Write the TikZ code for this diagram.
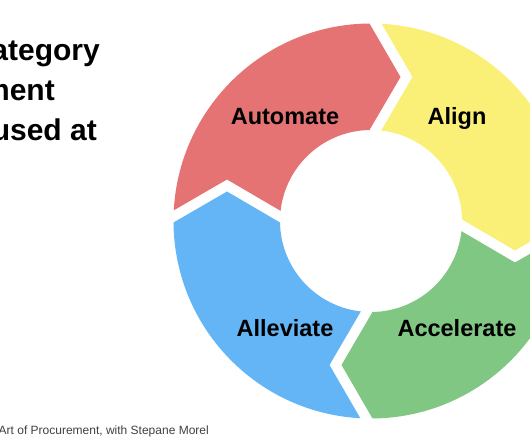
\documentclass[tikz,border=0pt]{standalone}
\usepackage{fontspec}
\setmainfont{Liberation Sans}
\usepackage{xcolor}
\usetikzlibrary{calc}

\definecolor{autored}{HTML}{E57373}
\definecolor{alignyel}{HTML}{FAF078}
\definecolor{accgreen}{HTML}{81C784}
\definecolor{allblue}{HTML}{64B5F6}

\begin{document}
\begin{tikzpicture}[
    x=1pt, y=1pt,
    every node/.style={align=center, inner sep=0pt},
    stage/.style={font=\fontsize{23.5}{28}\selectfont\bfseries, anchor=base},
    head/.style ={font=\fontsize{30}{36}\selectfont\bfseries, anchor=base east},
    note/.style ={font=\fontsize{12}{14}\selectfont, color=black!75, anchor=base west}
]
\useasboundingbox (0,0) rectangle (530,442);

% =========================================================
% Ring of four chevron arrows
% =========================================================
\coordinate (ring_c) at (371,221);
\begin{scope}[shift={(ring_c)}, even odd rule]
  \clip (0,0) circle[radius=197.5] (0,0) circle[radius=91];
  \foreach \col [count=\i from 0] in {autored,alignyel,accgreen,allblue}
    \fill[\col, rotate=-90*\i]
      (-251,-20.5) -- (-144,41.5) -- (-38,-20.5) -- (-32.5,38)
      -- (29.5,144) -- (-32.5,251) -- (-260,260) -- cycle;
\end{scope}

\node[stage] (automate)   at (285,317) {Automate};
\node[stage] (align)      at (457,317) {Align};
\node[stage] (alleviate)  at (285,106) {Alleviate};
\node[stage] (accelerate) at (457,106) {Accelerate};

% =========================================================
% Title (cut at the left edge) and credit
% =========================================================
\node[head] (title1) at (100,381) {ategory};
\node[head] (title2) at (55,341)  {ment};
\node[head] (title3) at (97,301)  {used at};

\node[note] (credit) at (-1.5,8) {Art of Procurement, with Stepane Morel};

\end{tikzpicture}
\end{document}
